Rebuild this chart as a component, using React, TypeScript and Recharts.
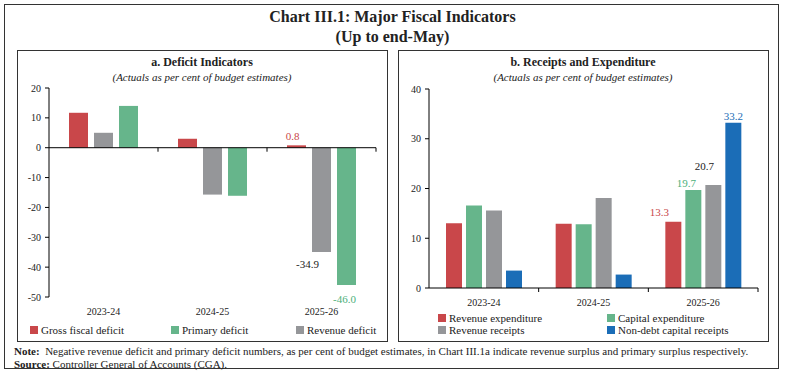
import { BarChart, Bar, XAxis, YAxis, ReferenceLine, LabelList } from "recharts";

const years = ["2023-24", "2024-25", "2025-26"];

// panel a: deficit indicators (per cent of BE)
const grossFiscalDeficit = [11.7, 3.0, 0.8];
const revenueDeficit = [5.0, -15.7, -34.9];
const primaryDeficit = [14.0, -16.1, -46.0];
const deficitTicks = [20, 10, 0, -10, -20, -30, -40, -50];

// panel b: receipts and expenditure (per cent of BE)
const revenueExpenditure = [13.0, 12.9, 13.3];
const capitalExpenditure = [16.6, 12.8, 19.7];
const revenueReceipts = [15.6, 18.1, 20.7];
const nonDebtCapitalReceipts = [3.5, 2.7, 33.2];
const receiptTicks = [0, 10, 20, 30, 40];

const RED = "#C9474A";
const GREEN = "#66B58B";
const GREY = "#959699";
const BLUE = "#1B6DB7";
const FONT = "'Liberation Serif', 'DejaVu Serif', serif";

const deficitData = years.map((year, i) => ({
  year,
  gross: grossFiscalDeficit[i],
  revenue: revenueDeficit[i],
  primary: primaryDeficit[i],
}));

const receiptData = years.map((year, i) => ({
  year,
  revExp: revenueExpenditure[i],
  capExp: capitalExpenditure[i],
  revRec: revenueReceipts[i],
  nonDebt: nonDebtCapitalReceipts[i],
}));

// plot areas (svg coords)
const A = { left: 49, right: 376, top: 88, bottom: 297 };
const B = { left: 39, right: 368, top: 89, bottom: 288 }; // inside a chart placed at x=390

function yearTick(zeroY: number, halfBand: number) {
  return (props: any) => {
    const { x, y, payload } = props;
    return (
      <g>
        <line x1={x + halfBand} x2={x + halfBand} y1={zeroY} y2={zeroY + 4} stroke="#000" />
        <text x={x} y={y} dy="0.95em" textAnchor="middle" fontSize={10} fill="#222" fontFamily={FONT}>
          {payload.value}
        </text>
      </g>
    );
  };
}

function lastLabel(color: string, dx: number, gap: number) {
  return (props: any) => {
    const { x, y, width, height, value, index } = props;
    if (index !== years.length - 1) return null;
    const endY = value >= 0 ? Math.min(y, y + height) : Math.max(y, y + height);
    const ty = value >= 0 ? endY - gap : endY + gap;
    return (
      <text
        x={x + width / 2 + dx}
        y={ty}
        textAnchor="middle"
        dominantBaseline="central"
        fontSize={11}
        fill={color}
        fontFamily={FONT}
      >
        {Number(value).toFixed(1)}
      </text>
    );
  };
}

function LegendItem({ color, label, left, top }: { color: string; label: string; left: number; top: number }) {
  return (
    <div style={{ position: "absolute", left, top, display: "flex", alignItems: "center", fontSize: 11, whiteSpace: "nowrap" }}>
      <span style={{ width: 8, height: 8, background: color, display: "inline-block", marginRight: 3 }} />
      {label}
    </div>
  );
}

export default function App() {
  const aZero = A.top + ((20 - 0) / (20 - -50)) * (A.bottom - A.top);
  const aHalf = (A.right - A.left) / years.length / 2;
  const bHalf = (B.right - B.left) / years.length / 2;

  return (
    <div style={{ position: "absolute", left: 0, top: 0, width: 785, height: 383, background: "#fff", fontFamily: FONT, color: "#222" }}>
      <div style={{ position: "absolute", left: 4, top: 4, width: 773, height: 363, border: "1.5px solid #333" }} />
      <div style={{ position: "absolute", left: 0, width: 785, top: 7, textAlign: "center", fontSize: 16, fontWeight: "bold", lineHeight: "20px" }}>
        Chart III.1: Major Fiscal Indicators
        <br />
        (Up to end-May)
      </div>

      <div style={{ position: "absolute", left: 17, top: 50, width: 369, height: 290, border: "1px solid #333" }} />
      <div style={{ position: "absolute", left: 398, top: 50, width: 369, height: 290, border: "1px solid #333" }} />

      <div style={{ position: "absolute", left: 17, width: 370, top: 55, textAlign: "center", fontSize: 12, fontWeight: "bold" }}>
        a. Deficit Indicators
      </div>
      <div style={{ position: "absolute", left: 17, width: 370, top: 71, textAlign: "center", fontSize: 11, fontStyle: "italic" }}>
        (Actuals as per cent of budget estimates)
      </div>
      <div style={{ position: "absolute", left: 398, width: 370, top: 55, textAlign: "center", fontSize: 12, fontWeight: "bold" }}>
        b. Receipts and Expenditure
      </div>
      <div style={{ position: "absolute", left: 398, width: 370, top: 71, textAlign: "center", fontSize: 11, fontStyle: "italic" }}>
        (Actuals as per cent of budget estimates)
      </div>

      <div style={{ position: "absolute", left: 0, top: 0 }}>
        <BarChart
          width={390}
          height={383}
          data={deficitData}
          margin={{ top: A.top, right: 390 - A.right, bottom: 383 - A.bottom - 30, left: 0 }}
          barSize={19}
          barGap={6}
        >
          <XAxis dataKey="year" axisLine={false} tickLine={false} height={30} tick={yearTick(aZero, aHalf)} interval={0} />
          <YAxis
            domain={[-50, 20]}
            ticks={deficitTicks}
            width={A.left}
            axisLine={{ stroke: "#000" }}
            tickLine={{ stroke: "#000" }}
            tickSize={4}
            tickMargin={4}
            tick={{ fontSize: 10, fill: "#222", fontFamily: FONT }}
            interval={0}
          />
          <ReferenceLine y={0} stroke="#000" />
          <Bar dataKey="gross" fill={RED} isAnimationActive={false}>
            <LabelList dataKey="gross" content={lastLabel(RED, -4, 9)} />
          </Bar>
          <Bar dataKey="revenue" fill={GREY} isAnimationActive={false}>
            <LabelList dataKey="revenue" content={lastLabel("#222", -14, 12)} />
          </Bar>
          <Bar dataKey="primary" fill={GREEN} isAnimationActive={false}>
            <LabelList dataKey="primary" content={lastLabel("#4CB07A", -2, 14)} />
          </Bar>
        </BarChart>
      </div>

      <div style={{ position: "absolute", left: 390, top: 0 }}>
        <BarChart
          width={395}
          height={383}
          data={receiptData}
          margin={{ top: B.top, right: 395 - B.right, bottom: 383 - B.bottom - 30, left: 0 }}
          barSize={16}
          barGap={4}
        >
          <XAxis dataKey="year" axisLine={{ stroke: "#000" }} tickLine={false} height={30} tick={yearTick(B.bottom, bHalf)} interval={0} />
          <YAxis
            domain={[0, 40]}
            ticks={receiptTicks}
            width={B.left}
            axisLine={{ stroke: "#000" }}
            tickLine={{ stroke: "#000" }}
            tickSize={4}
            tickMargin={4}
            tick={{ fontSize: 10, fill: "#222", fontFamily: FONT }}
            interval={0}
          />
          <Bar dataKey="revExp" fill={RED} isAnimationActive={false}>
            <LabelList dataKey="revExp" content={lastLabel(RED, -14, 10)} />
          </Bar>
          <Bar dataKey="capExp" fill={GREEN} isAnimationActive={false}>
            <LabelList dataKey="capExp" content={lastLabel("#4CB07A", -7, 7)} />
          </Bar>
          <Bar dataKey="revRec" fill={GREY} isAnimationActive={false}>
            <LabelList dataKey="revRec" content={lastLabel("#222", -9, 19)} />
          </Bar>
          <Bar dataKey="nonDebt" fill={BLUE} isAnimationActive={false}>
            <LabelList dataKey="nonDebt" content={lastLabel(BLUE, 0, 7)} />
          </Bar>
        </BarChart>
      </div>

      <LegendItem color={RED} label="Gross fiscal deficit" left={30} top={324} />
      <LegendItem color={GREEN} label="Primary deficit" left={171} top={324} />
      <LegendItem color={GREY} label="Revenue deficit" left={296} top={324} />

      <LegendItem color={RED} label="Revenue expenditure" left={438} top={312} />
      <LegendItem color={GREEN} label="Capital expenditure" left={607} top={312} />
      <LegendItem color={GREY} label="Revenue receipts" left={438} top={324} />
      <LegendItem color={BLUE} label="Non-debt capital receipts" left={607} top={324} />

      <div style={{ position: "absolute", left: 14, top: 345, fontSize: 11, lineHeight: "13px", whiteSpace: "nowrap" }}>
        <b>Note:</b>&nbsp; Negative revenue deficit and primary deficit numbers, as per cent of budget estimates, in Chart III.1a indicate revenue surplus and primary surplus respectively.
        <br />
        <b>Source:</b> Controller General of Accounts (CGA).
      </div>
    </div>
  );
}
